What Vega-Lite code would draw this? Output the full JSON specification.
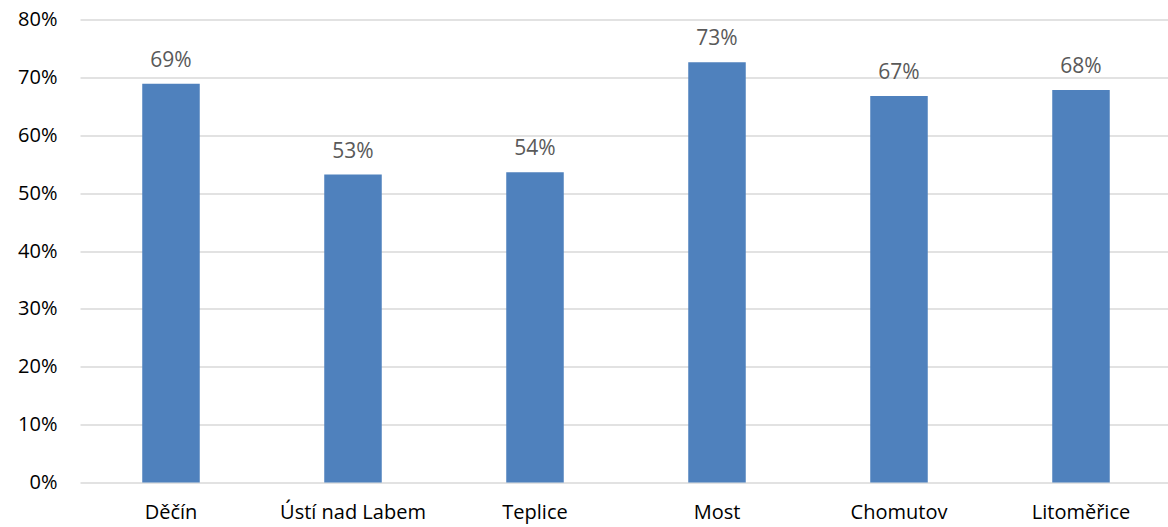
{
  "$schema": "https://vega.github.io/schema/vega-lite/v6.json",
  "autosize": {"type": "none"},
  "padding": {"left": 80, "top": 19.5, "right": 0, "bottom": 44},
  "width": 1092,
  "height": 463,
  "background": "white",
  "config": {"view": {"stroke": null}, "font": "Open Sans"},
  "data": {"values": [
    {"okres": "Děčín", "podil": 0.689},
    {"okres": "Ústí nad Labem", "podil": 0.532},
    {"okres": "Teplice", "podil": 0.536},
    {"okres": "Most", "podil": 0.726},
    {"okres": "Chomutov", "podil": 0.668},
    {"okres": "Litoměřice", "podil": 0.678}
  ]},
  "encoding": {
    "x": {"field": "okres", "type": "nominal", "sort": null,
      "scale": {"paddingInner": 0.684, "paddingOuter": 0.342},
      "axis": {"title": null, "labelAngle": 0, "domain": false, "ticks": false, "labelPadding": 20, "labelFontSize": 20, "labelColor": "#000000", "labelFont": "Open Sans", "labelFontWeight": "normal"}},
    "y": {"field": "podil", "type": "quantitative",
      "scale": {"domain": [0, 0.8], "nice": false},
      "axis": {"title": null, "format": ".0%", "values": [0, 0.1, 0.2, 0.3, 0.4, 0.5, 0.6, 0.7, 0.8], "domain": false, "ticks": false, "labelPadding": 23, "labelFontSize": 20, "labelColor": "#000000", "gridColor": "#d9d9d9", "gridWidth": 1.5, "labelFont": "Open Sans"}}
  },
  "layer": [
    {"mark": {"type": "bar", "color": "#4F81BD"}},
    {"mark": {"type": "text", "baseline": "alphabetic", "dy": -17, "fontSize": 21, "color": "#595959", "font": "Open Sans"},
      "encoding": {"text": {"field": "podil", "type": "quantitative", "format": ".0%"}}}
  ]
}
